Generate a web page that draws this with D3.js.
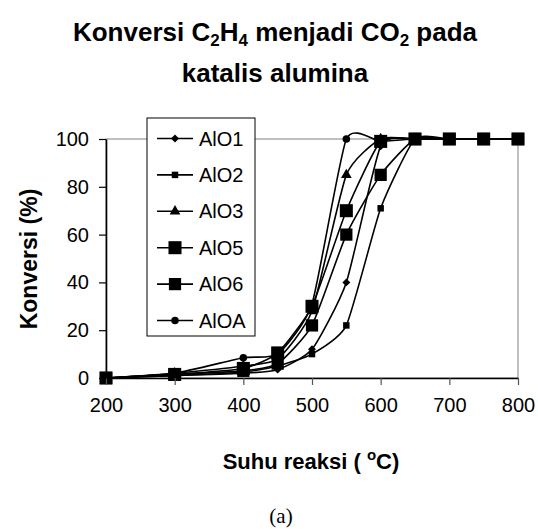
<!DOCTYPE html>
<html>
<head>
<meta charset="utf-8">
<script src="https://cdn.jsdelivr.net/npm/d3@7"></script>
<style>
  body { margin: 0; background: #fff; }
  text { font-family: "Liberation Sans", Arial, sans-serif; fill: #000; }
</style>
</head>
<body>
<div id="chart"></div>
<script>
// suhu reaksi (C)
var suhu = [200, 300, 400, 450, 500, 550, 600, 650, 700, 750, 800];
// konversi (%) per katalis
var aio1 = [0, 1, 2, 3.5, 12, 40, 97, 100, 100, 100, 100];
var aio2 = [0, 1, 2.5, 5, 10, 22, 71, 100, 100, 100, 100];
var aio3 = [0, 2, 5, 8, 28, 85, 100, 100, 100, 100, 100];
var aio5 = [0, 1.5, 4, 10.5, 30, 70, 99, 100, 100, 100, 100];
var aio6 = [0, 1.5, 3, 6, 22, 60, 85, 100, 100, 100, 100];
var aioA = [0, 2, 8.5, 10, 31, 100, 99, 100, 100, 100, 100];
var seriesNames = ["AlO1", "AlO2", "AlO3", "AlO5", "AlO6", "AlOA"];
var xTicks = [200, 300, 400, 500, 600, 700, 800];
var yTicks = [0, 20, 40, 60, 80, 100];

var svgWidth = 538;
var svgHeight = 529;

var margin = { top: 139, right: 20, bottom: 151, left: 106 };
var chartWidth = 518 - margin.left;
var chartHeight = 378 - margin.top;

var svg = d3.select("#chart").append("svg")
            .attr("width", svgWidth)
            .attr("height", svgHeight);

var chartGroup = svg.append("g")
                    .attr("transform", `translate(${margin.left}, ${margin.top})`);

var xScale = d3.scaleLinear().domain([200, 800]).range([0, chartWidth]);
var yScale = d3.scaleLinear().domain([0, 100]).range([chartHeight, 0]);

// plot area frame
chartGroup.append("rect")
          .attr("x", 0).attr("y", 0)
          .attr("width", chartWidth).attr("height", chartHeight)
          .attr("fill", "none")
          .attr("stroke", "#808080")
          .attr("stroke-width", 1);

var seriesData = [aio1, aio2, aio3, aio5, aio6, aioA];
var symbols = [
  { type: d3.symbolDiamond2, size: 40 },
  { type: d3.symbolSquare, size: 42 },
  { type: d3.symbolTriangle, size: 50 },
  { type: d3.symbolSquare, size: 170 },
  { type: d3.symbolSquare, size: 150 },
  { type: d3.symbolCircle, size: 45 }
];

var line = d3.line()
             .x((d, i) => xScale(suhu[i]))
             .y(d => yScale(d))
             .curve(d3.curveCardinal.tension(0.45));

seriesData.forEach((vals, s) => {
  chartGroup.append("path")
            .attr("d", line(vals))
            .attr("fill", "none")
            .attr("stroke", "#000")
            .attr("stroke-width", 1.6);
});

seriesData.forEach((vals, s) => {
  var sym = d3.symbol().type(symbols[s].type).size(symbols[s].size);
  chartGroup.selectAll(null).data(vals).enter().append("path")
            .attr("transform", (d, i) => `translate(${xScale(suhu[i])}, ${yScale(d)})`)
            .attr("d", sym)
            .attr("fill", "#000");
});

// axes
var bottomAxis = d3.axisBottom(xScale).tickValues(xTicks).tickSize(7).tickSizeOuter(0).tickPadding(13);
var xAxisG = chartGroup.append("g")
          .attr("transform", `translate(0, ${chartHeight})`)
          .call(bottomAxis);
xAxisG.select(".domain").attr("stroke-width", 1.6);
xAxisG.selectAll(".tick line").attr("stroke", "#555").attr("stroke-width", 1.2);
xAxisG.selectAll("text").style("font-size", "20px").attr("font-family", null);

var leftAxis = d3.axisLeft(yScale).tickValues(yTicks).tickSize(7).tickSizeOuter(0).tickPadding(10);
var yAxisG = chartGroup.append("g").call(leftAxis);
yAxisG.select(".domain").attr("stroke-width", 1.6);
yAxisG.selectAll(".tick line").attr("stroke-width", 1.2);
yAxisG.selectAll("text").style("font-size", "20px").attr("font-family", null);

// legend
var legend = svg.append("g");
legend.append("rect")
      .attr("x", 147).attr("y", 118)
      .attr("width", 108).attr("height", 218)
      .attr("fill", "#fff")
      .attr("stroke", "#000")
      .attr("stroke-width", 1);

seriesNames.forEach((name, s) => {
  var ly = 138.5 + s * 36.4;
  legend.append("line")
        .attr("x1", 157).attr("x2", 193)
        .attr("y1", ly).attr("y2", ly)
        .attr("stroke", "#000").attr("stroke-width", 1.6);
  legend.append("path")
        .attr("transform", `translate(175, ${ly})`)
        .attr("d", d3.symbol().type(symbols[s].type).size(symbols[s].size))
        .attr("fill", "#000");
  legend.append("text")
        .attr("x", 199).attr("y", ly + 7)
        .style("font-size", "20px")
        .text(name);
});

// title
var title = svg.append("text")
               .attr("x", 275).attr("y", 41)
               .attr("text-anchor", "middle")
               .style("font-size", "26px")
               .style("font-weight", "bold");
title.append("tspan").text("Konversi C");
title.append("tspan").attr("dy", 5).style("font-size", "17px").text("2");
title.append("tspan").attr("dy", -5).text("H");
title.append("tspan").attr("dy", 5).style("font-size", "17px").text("4");
title.append("tspan").attr("dy", -5).text(" menjadi CO");
title.append("tspan").attr("dy", 5).style("font-size", "17px").text("2");
title.append("tspan").attr("dy", -5).text(" pada");

svg.append("text")
   .attr("x", 275).attr("y", 82)
   .attr("text-anchor", "middle")
   .style("font-size", "26px")
   .style("font-weight", "bold")
   .text("katalis alumina");

// axis titles
var xTitle = svg.append("text")
                .attr("x", 311).attr("y", 469)
                .attr("text-anchor", "middle")
                .style("font-size", "22px")
                .style("font-weight", "bold");
xTitle.append("tspan").text("Suhu reaksi ( ");
xTitle.append("tspan").attr("dy", -9).style("font-size", "15px").text("o");
xTitle.append("tspan").attr("dy", 9).text("C)");

svg.append("text")
   .attr("transform", "rotate(-90)")
   .attr("x", -259).attr("y", 37)
   .attr("text-anchor", "middle")
   .style("font-size", "23px")
   .style("font-weight", "bold")
   .text("Konversi (%)");

svg.append("text")
   .attr("x", 281).attr("y", 523)
   .attr("text-anchor", "middle")
   .style("font-family", "'Liberation Serif', 'Times New Roman', serif")
   .style("font-size", "21px")
   .text("(a)");
</script>
</body>
</html>
